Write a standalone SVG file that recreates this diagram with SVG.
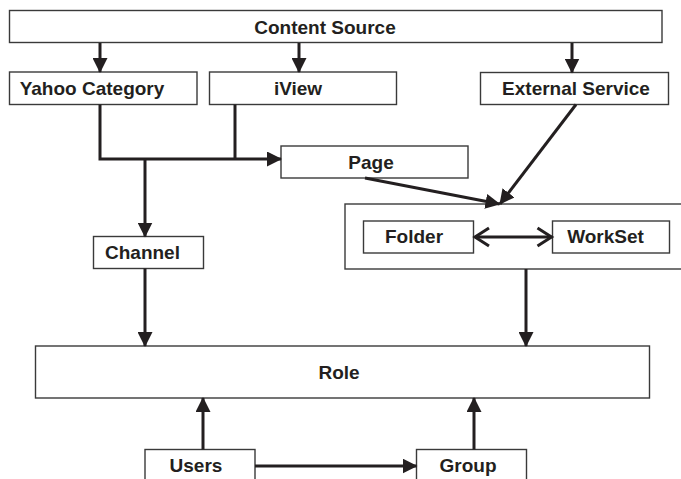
<svg xmlns="http://www.w3.org/2000/svg" width="681" height="479" viewBox="0 0 681 479">
<style>
.box{fill:#fff;stroke:#3a3a3a;stroke-width:1.4}
.lbl{font-family:"Liberation Sans",Arial,sans-serif;font-weight:bold;font-size:19px;fill:#231f20;text-anchor:middle}
.con{fill:none;stroke:#231f20;stroke-width:3}
</style>
<defs>
<marker id="ah" markerUnits="userSpaceOnUse" markerWidth="15" markerHeight="15" refX="14" refY="7.5" orient="auto" viewBox="0 0 15 15">
<path d="M0,0 L15,7.5 L0,15 z" fill="#231f20"/>
</marker>
<marker id="ch" markerUnits="userSpaceOnUse" markerWidth="20" markerHeight="22" refX="16" refY="11" orient="auto-start-reverse" viewBox="0 0 20 22">
<path d="M2,2 L16,11 L2,20" fill="none" stroke="#231f20" stroke-width="3"/>
</marker>
</defs>
<g id="content-source"><rect class="box" x="9.5" y="10.5" width="652.5" height="32"/><text class="lbl" x="325" y="34">Content Source</text></g>
<g id="yahoo-category"><rect class="box" x="9.5" y="72" width="187.5" height="32.5"/><text class="lbl" x="92" y="95">Yahoo Category</text></g>
<g id="iview"><rect class="box" x="209.5" y="72" width="187" height="32.5"/><text class="lbl" x="298" y="95">iView</text></g>
<g id="external-service"><rect class="box" x="480.5" y="72.5" width="188" height="32"/><text class="lbl" x="576" y="95">External Service</text></g>
<g id="page"><rect class="box" x="281" y="146" width="187" height="32"/><text class="lbl" x="371" y="169">Page</text></g>
<g id="container"><rect class="box" x="345" y="204" width="345" height="65"/></g>
<g id="folder"><rect class="box" x="363.5" y="221" width="110" height="32"/><text class="lbl" x="414" y="243">Folder</text></g>
<g id="workset"><rect class="box" x="552.5" y="221" width="117" height="32"/><text class="lbl" x="605.5" y="243">WorkSet</text></g>
<g id="channel"><rect class="box" x="93.5" y="236.5" width="110" height="32"/><text class="lbl" x="142.5" y="259">Channel</text></g>
<g id="role"><rect class="box" x="35.5" y="346" width="614" height="52"/><text class="lbl" x="339" y="379">Role</text></g>
<g id="users"><rect class="box" x="145" y="449.5" width="110" height="40"/><text class="lbl" x="196" y="472">Users</text></g>
<g id="group"><rect class="box" x="416.5" y="449.5" width="110" height="40"/><text class="lbl" x="468" y="472">Group</text></g>
<g id="connectors">
<path class="con" d="M100,43 V72" marker-end="url(#ah)"/>
<path class="con" d="M299,43 V72" marker-end="url(#ah)"/>
<path class="con" d="M572,43 V72.5" marker-end="url(#ah)"/>
<path class="con" d="M100,104.5 V159 H281" marker-end="url(#ah)"/>
<path class="con" d="M235,104.5 V159"/>
<path class="con" d="M145,159 V236.5" marker-end="url(#ah)"/>
<path class="con" d="M145,268.5 V346" marker-end="url(#ah)"/>
<path class="con" d="M526,269 V346" marker-end="url(#ah)"/>
<path class="con" d="M203,449.5 V398" marker-end="url(#ah)"/>
<path class="con" d="M474,449.5 V398" marker-end="url(#ah)"/>
<path class="con" d="M255,466 H416.5" marker-end="url(#ah)"/>
<path class="con" d="M365,178 L499.5,204" marker-end="url(#ah)"/>
<path class="con" d="M576,104.5 L500,204" marker-end="url(#ah)"/>
<path class="con" d="M475,237 H551.5" marker-start="url(#ch)" marker-end="url(#ch)"/>
</g>
</svg>
